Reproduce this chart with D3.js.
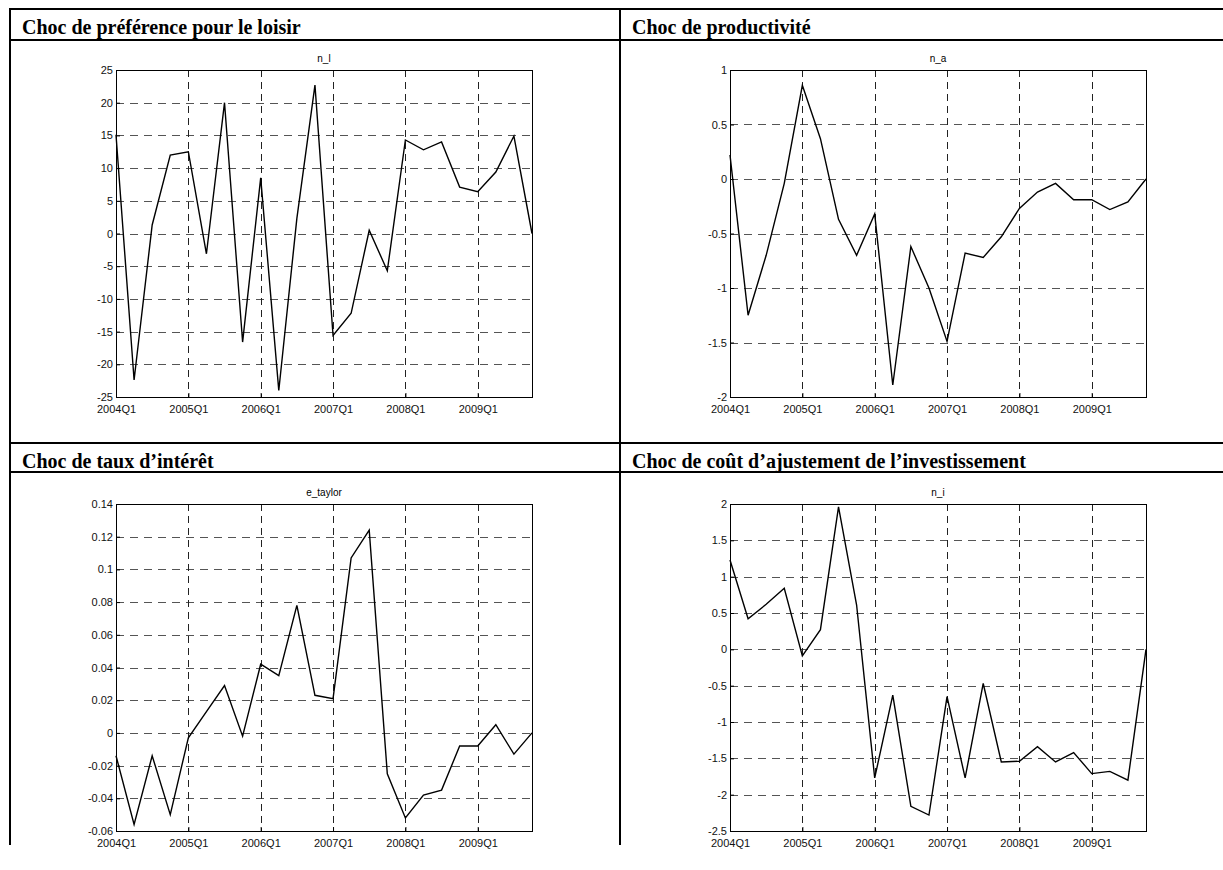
<!DOCTYPE html>
<html>
<head>
<meta charset="utf-8">
<script src="https://cdn.jsdelivr.net/npm/d3@7"></script>
<style>
  body { margin: 0; background: #fff; }
  svg { display: block; }
</style>
</head>
<body>
<div id="my_dataviz"></div>
<script>
// quarters on the x axis
var quarters = ["2004Q1","2004Q2","2004Q3","2004Q4","2005Q1","2005Q2","2005Q3","2005Q4",
                "2006Q1","2006Q2","2006Q3","2006Q4","2007Q1","2007Q2","2007Q3","2007Q4",
                "2008Q1","2008Q2","2008Q3","2008Q4","2009Q1","2009Q2","2009Q3","2009Q4"];
var xTickLabels = ["2004Q1","2005Q1","2006Q1","2007Q1","2008Q1","2009Q1"];

// smoothed shocks
var nL = [15.1, -22.4, 1.3, 12.0, 12.5, -3.1, 20.0, -16.6,
          8.5, -24.0, 2.3, 22.7, -15.6, -12.2, 0.5, -5.7,
          14.3, 12.8, 14.0, 7.1, 6.4, 9.4, 14.9, 0];
var nA = [0.22, -1.25, -0.70, -0.04, 0.86, 0.37, -0.37, -0.70,
          -0.32, -1.89, -0.62, -1.00, -1.49, -0.68, -0.72, -0.53,
          -0.27, -0.12, -0.04, -0.19, -0.19, -0.28, -0.21, 0];
var eTaylor = [-0.014, -0.056, -0.014, -0.050, -0.003, 0.013, 0.029, -0.002,
               0.042, 0.035, 0.078, 0.023, 0.021, 0.107, 0.124, -0.025,
               -0.052, -0.038, -0.035, -0.008, -0.008, 0.005, -0.013, 0];
var nI = [1.23, 0.42, 0.62, 0.84, -0.09, 0.27, 1.96, 0.61,
          -1.77, -0.63, -2.16, -2.28, -0.65, -1.77, -0.47, -1.55,
          -1.54, -1.34, -1.55, -1.42, -1.71, -1.68, -1.80, 0];

// y tick labels
var yTicksL = [-25, -20, -15, -10, -5, 0, 5, 10, 15, 20, 25];
var yTicksA = [-2, -1.5, -1, -0.5, 0, 0.5, 1];
var yTicksT = [-0.06, -0.04, -0.02, 0, 0.02, 0.04, 0.06, 0.08, 0.1, 0.12, 0.14];
var yTicksI = [-2.5, -2, -1.5, -1, -0.5, 0, 0.5, 1, 1.5, 2];

var headers = ["Choc de préférence pour le loisir", "Choc de productivité",
               "Choc de taux d\u2019intérêt", "Choc de coût d\u2019ajustement de l\u2019investissement"];
var titles = ["n_l", "n_a", "e_taylor", "n_i"];

var W = 1223, H = 870;
var svg = d3.select("#my_dataviz")
  .append("svg")
    .attr("width", W)
    .attr("height", H);

// ---------------------------//
//       TABLE                //
// ---------------------------//
var colX = [10, 620];
var rowTop = [9, 443];
var tbl = svg.append("g").attr("stroke", "#000").attr("stroke-width", 2);
tbl.append("line").attr("x1", 9).attr("x2", W).attr("y1", 9).attr("y2", 9);
tbl.append("line").attr("x1", 9).attr("x2", W).attr("y1", 40).attr("y2", 40);
tbl.append("line").attr("x1", 9).attr("x2", W).attr("y1", 443).attr("y2", 443);
tbl.append("line").attr("x1", 9).attr("x2", W).attr("y1", 472).attr("y2", 472);
tbl.append("line").attr("x1", 10).attr("x2", 10).attr("y1", 8).attr("y2", 845);
tbl.append("line").attr("x1", 620).attr("x2", 620).attr("y1", 8).attr("y2", 845);

headers.forEach(function(h, i) {
  svg.append("text")
    .attr("x", colX[i % 2] + 12)
    .attr("y", rowTop[Math.floor(i / 2)] + 25)
    .style("font-family", "'Liberation Serif', 'Times New Roman', serif")
    .style("font-weight", "bold")
    .style("font-size", "20px")
    .text(h);
});

// ---------------------------//
//       PANELS               //
// ---------------------------//
var plotW = 416, plotH = 327;
var panels = [
  {left: 116, top: 70,  values: nL,      domain: [-25, 25],     ticks: yTicksL},
  {left: 730, top: 70,  values: nA,      domain: [-2, 1],       ticks: yTicksA},
  {left: 116, top: 504, values: eTaylor, domain: [-0.06, 0.14], ticks: yTicksT},
  {left: 730, top: 504, values: nI,      domain: [-2.5, 2],     ticks: yTicksI}
];

var x = d3.scalePoint().domain(quarters).range([0, plotW]);

panels.forEach(function(p, i) {
  var g = svg.append("g").attr("transform", "translate(" + p.left + "," + p.top + ")");
  var y = d3.scaleLinear().domain(p.domain).range([plotH, 0]);

  // grid
  g.append("g").selectAll("line")
    .data(p.ticks.slice(1, -1))
    .enter().append("line")
      .attr("x1", 0).attr("x2", plotW)
      .attr("y1", function(d) { return Math.round(y(d)) + 0.5; })
      .attr("y2", function(d) { return Math.round(y(d)) + 0.5; })
      .attr("stroke", "#555")
      .style("stroke-dasharray", "8,6");
  g.append("g").selectAll("line")
    .data(xTickLabels.slice(1))
    .enter().append("line")
      .attr("x1", function(d) { return Math.round(x(d)) + 0.5; })
      .attr("x2", function(d) { return Math.round(x(d)) + 0.5; })
      .attr("y1", 0).attr("y2", plotH)
      .attr("stroke", "#222")
      .style("stroke-dasharray", "7,5");

  // axes
  var yAxis = d3.axisLeft(y).tickValues(p.ticks).tickSize(-4).tickPadding(3)
    .tickFormat(function(d) { return String(d); });
  var ya = g.append("g").call(yAxis);
  var xAxis = d3.axisBottom(x).tickValues(xTickLabels).tickSize(-4).tickPadding(8);
  var xa = g.append("g").attr("transform", "translate(0," + plotH + ")").call(xAxis);
  [ya, xa].forEach(function(a) {
    a.select(".domain").remove();
    a.selectAll("line").attr("stroke", "#000");
    a.selectAll("text")
      .style("font-family", "'Liberation Sans', Arial, sans-serif")
      .style("font-size", "11px")
      .attr("fill", "#111");
  });

  // box
  g.append("rect")
    .attr("x", 0.5).attr("y", 0.5)
    .attr("width", plotW).attr("height", plotH)
    .attr("fill", "none")
    .attr("stroke", "#000");

  // series
  var line = d3.line()
    .x(function(d, j) { return x(quarters[j]); })
    .y(function(d) { return y(d); });
  g.append("path")
    .datum(p.values)
    .attr("d", line)
    .attr("fill", "none")
    .attr("stroke", "#000")
    .attr("stroke-width", 1.4)
    .attr("stroke-linejoin", "miter");

  // title
  g.append("text")
    .attr("x", plotW / 2)
    .attr("y", -8)
    .attr("text-anchor", "middle")
    .style("font-family", "'Liberation Sans', Arial, sans-serif")
    .style("font-size", "10px")
    .text(titles[i]);
});
</script>
</body>
</html>
